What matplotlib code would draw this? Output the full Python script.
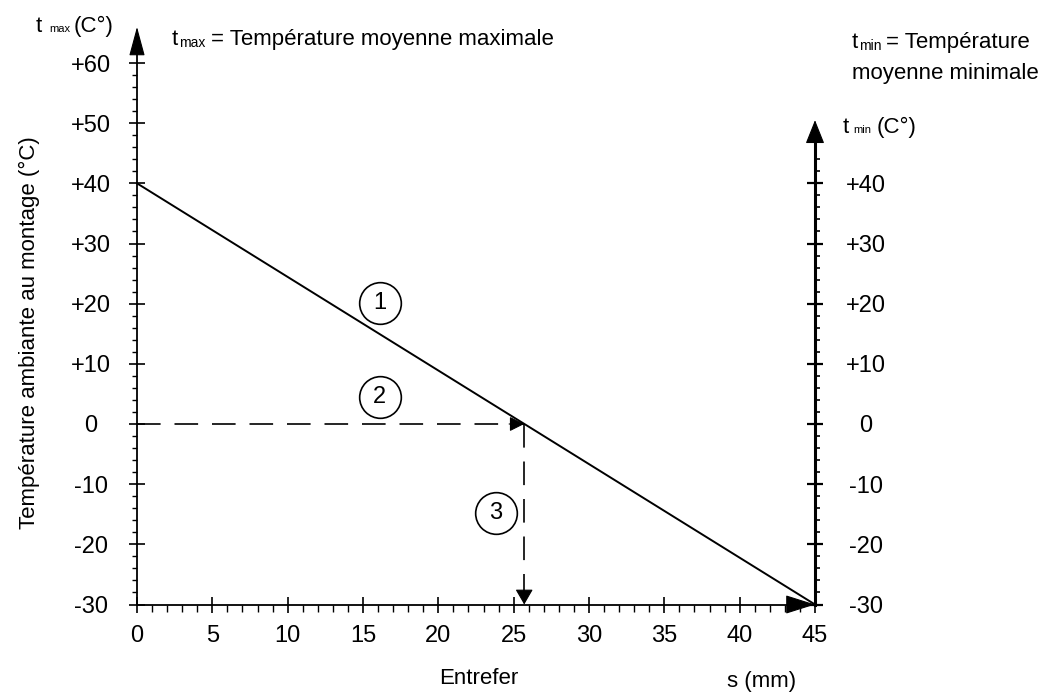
import matplotlib
matplotlib.use("Agg")
import matplotlib.pyplot as plt
from matplotlib.ticker import MultipleLocator, FixedLocator

# ----- Daten -----
s_line = [0, 45]            # Entrefer (mm)
t_line = [40, -30]          # Temperatur (°C)
s_cross = 25.7              # Schnittpunkt mit t = 0
t_cross = 0

circ_s = [16.1, 16.1, 23.8]
circ_t = [20.1, 4.5, -14.8]
circ_lbl = ["1", "2", "3"]

x_ticks = [0, 5, 10, 15, 20, 25, 30, 35, 40, 45]
y_ticks_left = [-30, -20, -10, 0, 10, 20, 30, 40, 50, 60]
y_lbl_left = ["-30", "-20", "-10", "0", "+10", "+20", "+30", "+40", "+50", "+60"]
y_ticks_right = [-30, -20, -10, 0, 10, 20, 30, 40]
y_lbl_right = ["-30", "-20", "-10", "0", "+10", "+20", "+30", "+40"]

FONT = ["Liberation Sans Narrow", "Liberation Sans", "DejaVu Sans"]
plt.rcParams["font.family"] = FONT
plt.rcParams["lines.scale_dashes"] = False

W, H = 1038, 695
fig = plt.figure(figsize=(W / 100, H / 100), dpi=100)


def px(x, y):
    # Pixel (oben links) -> Figure-Koordinaten
    return x / W, 1 - y / H


left, right = 137 / W, 815 / W
bottom, top = (H - 604.5) / H, (H - 26.9) / H
ax = fig.add_axes([left, bottom, right - left, top - bottom])
ax.set_xlim(0, 45)
ax.set_ylim(-30, 66)
ax.patch.set_visible(False)

for sp in ["top", "right"]:
    ax.spines[sp].set_visible(False)
ax.spines["left"].set_bounds(-30, 62)
ax.spines["bottom"].set_bounds(0, 45)
ax.spines["left"].set_linewidth(1.3)
ax.spines["bottom"].set_linewidth(1.3)

# x-Achse
ax.xaxis.set_major_locator(FixedLocator(x_ticks))
ax.xaxis.set_minor_locator(MultipleLocator(1))
ax.set_xticklabels([str(v) for v in x_ticks])
ax.tick_params(axis="x", which="major", direction="inout", length=11, width=1.2,
               pad=9, labelsize=17)
ax.tick_params(axis="x", which="minor", direction="out", length=5, width=1.0)

# linke y-Achse
ax.yaxis.set_major_locator(FixedLocator(y_ticks_left))
ax.yaxis.set_minor_locator(FixedLocator([v for v in range(-30, 61, 2) if v % 10]))
ax.set_yticklabels(y_lbl_left)
ax.tick_params(axis="y", which="major", direction="inout", length=11.5, width=1.2,
               pad=27.4, labelsize=17)
ax.tick_params(axis="y", which="minor", direction="out", length=3.5, width=1.0)
for lab in ax.get_yticklabels():
    lab.set_horizontalalignment("center")

# rechte y-Achse
ax2 = ax.twinx()
ax2.set_ylim(-30, 66)
for sp in ["top", "left", "bottom"]:
    ax2.spines[sp].set_visible(False)
ax2.spines["right"].set_bounds(-30, 47)
ax2.spines["right"].set_linewidth(2.2)
ax2.yaxis.set_major_locator(FixedLocator(y_ticks_right))
ax2.yaxis.set_minor_locator(FixedLocator([v for v in range(-30, 45, 2) if v % 10]))
ax2.set_yticklabels(y_lbl_right)
ax2.tick_params(axis="y", which="major", direction="inout", length=11.5, width=1.6,
                pad=31, labelsize=17)
ax2.tick_params(axis="y", which="minor", direction="out", length=3.5, width=1.2)
for lab in ax2.get_yticklabels():
    lab.set_horizontalalignment("center")

# Pfeilspitzen der Achsen
def head(a, tip, base, hl, hw):
    a.annotate("", xy=tip, xytext=base, annotation_clip=False,
               arrowprops=dict(arrowstyle=f"-|>,head_length={hl},head_width={hw}",
                               mutation_scale=1, lw=0.8, color="black",
                               shrinkA=0, shrinkB=0))

head(ax, (0, 66), (0, 61.7), 18.5, 5.0)
head(ax, (45, -30), (43.2, -30), 19, 6.0)
head(ax, (45, 50.5), (45, 46.8), 15, 6.0)

# Kennlinie
ax.plot(s_line, t_line, color="black", lw=1.4, clip_on=False, zorder=3)

# Ablesehilfe (gestrichelt)
ax.plot([0, s_cross], [t_cross, t_cross], color="black", lw=1.2,
        dashes=(17, 10), zorder=3)
ax.plot([s_cross, s_cross], [t_cross, -30], color="black", lw=1.2,
        dashes=(17, 10), zorder=3, clip_on=False)
head(ax, (s_cross, t_cross), (s_cross - 1.0, t_cross), 9, 4.5)
head(ax, (s_cross, -30), (s_cross, -28), 9.5, 5.5)

# Kreise mit Nummern
ax.plot(circ_s, circ_t, "o", ms=30, mfc="white", mec="black", mew=1.2, zorder=4)
for s, t, l in zip(circ_s, circ_t, circ_lbl):
    ax.text(s, t, l, ha="center", va="center", fontsize=17, zorder=5)

# Beschriftungen
fig.text(*px(29, 333), "Température ambiante au montage (°C)", rotation=90,
         ha="center", va="center", fontsize=16)
fig.text(*px(479, 679), "Entrefer", ha="center", va="center", fontsize=16)
fig.text(*px(762, 682), "s (mm)", ha="center", va="center", fontsize=16)

fig.text(*px(36, 32), "t", ha="left", va="baseline", fontsize=16)
fig.text(*px(49, 32), "max", ha="left", va="baseline", fontsize=8)
fig.text(*px(74, 32), "(C°)", ha="left", va="baseline", fontsize=16)

fig.text(*px(172, 45), "t", ha="left", va="baseline", fontsize=16)
fig.text(*px(179, 47), "max", ha="left", va="baseline", fontsize=10)
fig.text(*px(211, 45), "= Température moyenne maximale", ha="left",
         va="baseline", fontsize=16)

fig.text(*px(852, 48), "t", ha="left", va="baseline", fontsize=16)
fig.text(*px(859, 50), "min", ha="left", va="baseline", fontsize=10)
fig.text(*px(886, 48), "= Température", ha="left", va="baseline", fontsize=16)
fig.text(*px(852, 79), "moyenne minimale", ha="left", va="baseline", fontsize=16)

fig.text(*px(843, 133), "t", ha="left", va="baseline", fontsize=16)
fig.text(*px(853, 133), "min", ha="left", va="baseline", fontsize=8)
fig.text(*px(877, 133), "(C°)", ha="left", va="baseline", fontsize=16)

plt.savefig("out.png", dpi=100)
